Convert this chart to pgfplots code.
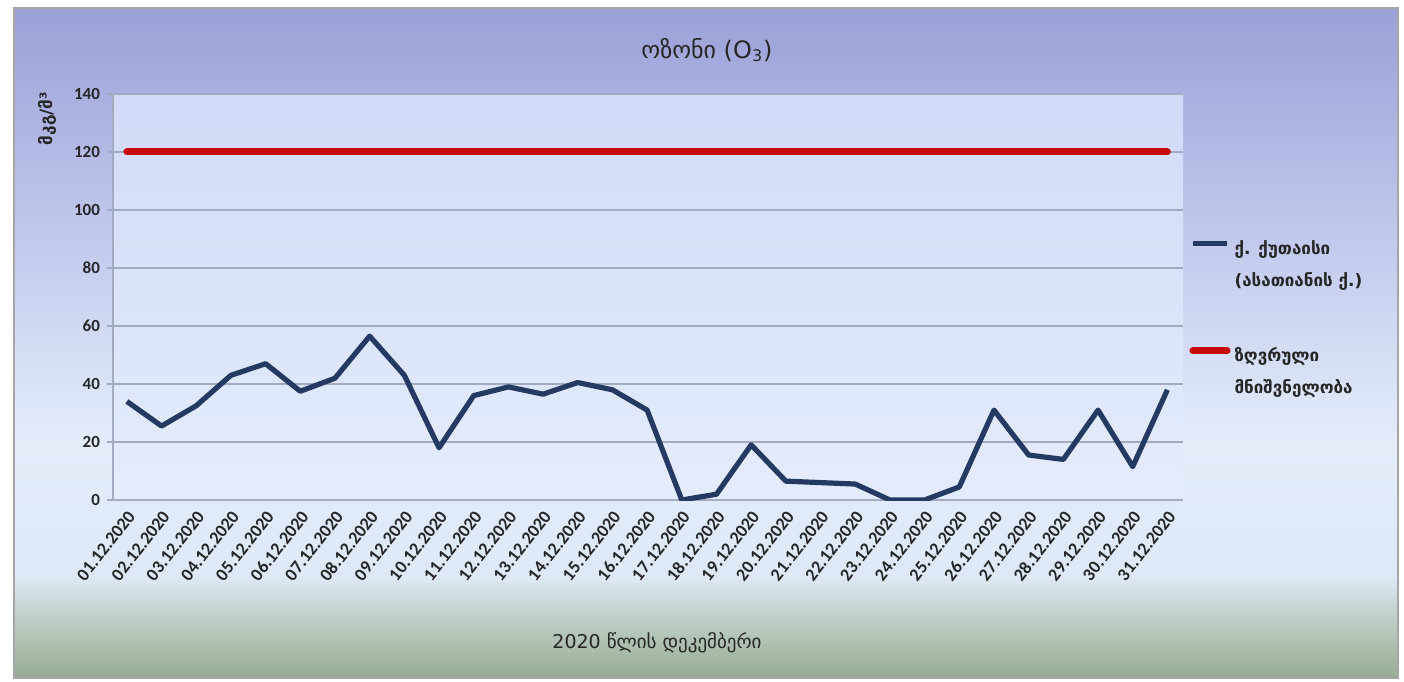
\documentclass[border=0pt]{standalone}
\usepackage{fontspec}
\setmainfont{DejaVu Sans}
\newfontfamily\numfont{Carlito}
\usepackage{pgfplots}
\pgfplotsset{compat=1.18}
\definecolor{bgtop}{RGB}{155,160,215}
\definecolor{bgup}{RGB}{200,208,240}
\definecolor{bgmid}{RGB}{228,236,250}
\definecolor{bglow}{RGB}{222,232,246}
\definecolor{bggreen}{RGB}{200,215,212}
\definecolor{bgbot}{RGB}{150,172,145}
\definecolor{navy}{RGB}{36,58,98}
\definecolor{limred}{RGB}{200,10,10}
\definecolor{gridc}{RGB}{165,170,195}
\pgfdeclareverticalshading{bgshade}{100bp}{color(0bp)=(bgbot); color(25bp)=(bgbot); color(30.5bp)=(bggreen); color(32.5bp)=(bglow); color(42.5bp)=(bgmid); color(55bp)=(bgup); color(75bp)=(bgtop); color(100bp)=(bgtop)}
\begin{document}
\begin{tikzpicture}
\useasboundingbox (0pt,0pt) rectangle (702pt,340.5pt);
\fill[white] (0pt,0pt) rectangle (702pt,340.5pt);
\shade[shading=bgshade, draw=gray!70, line width=0.8pt] (7pt,1.5pt) rectangle (699pt,336.5pt);
\begin{axis}[
  at={(56.5pt,90.5pt)}, anchor=south west,
  width=535pt, height=203pt, scale only axis,
  xmin=0.6, xmax=31.45, ymin=0, ymax=140,
  axis x line*=bottom, axis y line*=left,
  axis line style={gridc, line width=0.6pt},
  axis background/.style={top color={rgb,255:red,210;green,218;blue,248}, bottom color={rgb,255:red,228;green,236;blue,252}},
  ymajorgrids, grid style={gridc, line width=0.6pt},
  ytick={0,20,...,140},
  xtick={1,...,31},
  xticklabels={01.12.2020,02.12.2020,03.12.2020,04.12.2020,05.12.2020,06.12.2020,07.12.2020,08.12.2020,09.12.2020,10.12.2020,11.12.2020,12.12.2020,13.12.2020,14.12.2020,15.12.2020,16.12.2020,17.12.2020,18.12.2020,19.12.2020,20.12.2020,21.12.2020,22.12.2020,23.12.2020,24.12.2020,25.12.2020,26.12.2020,27.12.2020,28.12.2020,29.12.2020,30.12.2020,31.12.2020},
  x tick style={draw=none},
  y tick style={gridc, line width=0.6pt},
  tick align=outside, major tick length=3pt,
  /pgf/number format/assume math mode=true,
  yticklabel style={font=\numfont\bfseries\fontsize{8.5}{9}\selectfont, text=black!85},
  xticklabel style={font=\numfont\bfseries\fontsize{9}{10}\selectfont, rotate=52, anchor=east, text=black!85, xshift=2pt, yshift=-4pt},
  legend style={at={(axis description cs:1.0,0.66)}, anchor=north west, draw=none, fill=none,
    font=\bfseries\fontsize{8.5}{16}\selectfont, row sep=25pt,
    nodes={align=left, text=black!85}},
  legend cell align=left,
  legend image code/.code={\path (0cm,-10.5pt); \draw[#1] (0cm,10.5pt) -- (0.6cm,10.5pt);},
]
\addplot[navy, line width=2.6pt, line join=round] coordinates {
(1,34) (2,25.5) (3,32.5) (4,43) (5,47) (6,37.5) (7,42) (8,56.5) (9,43) (10,18)
(11,36) (12,39) (13,36.5) (14,40.5) (15,38) (16,31) (17,0) (18,2) (19,19) (20,6.5)
(21,6) (22,5.5) (23,0) (24,0) (25,4.5) (26,31) (27,15.5) (28,14) (29,31) (30,11.5) (31,38)
};
\addlegendentry{ქ. ქუთაისი\\(ასათიანის ქ.)}
\addplot[limred, line width=3.5pt, line cap=round] coordinates {
(1,120) (2,120) (3,120) (4,120) (5,120) (6,120) (7,120) (8,120) (9,120) (10,120)
(11,120) (12,120) (13,120) (14,120) (15,120) (16,120) (17,120) (18,120) (19,120) (20,120)
(21,120) (22,120) (23,120) (24,120) (25,120) (26,120) (27,120) (28,120) (29,120) (30,120) (31,120)
};
\addlegendentry{ზღვრული\\მნიშვნელობა}
\end{axis}
\node[font=\fontsize{12}{14}\selectfont, text=black!85] at (353.5pt,315.5pt) {ოზონი (O\textsubscript{3})};
\node[font=\bfseries\fontsize{8.5}{10}\selectfont, rotate=90, anchor=east, text=black!85] at (23.5pt,298pt) {მკგ/მ³};
\node[font=\fontsize{9.5}{11}\selectfont, text=black!85] at (328.5pt,19pt) {2020 წლის დეკემბერი};
\end{tikzpicture}
\end{document}
